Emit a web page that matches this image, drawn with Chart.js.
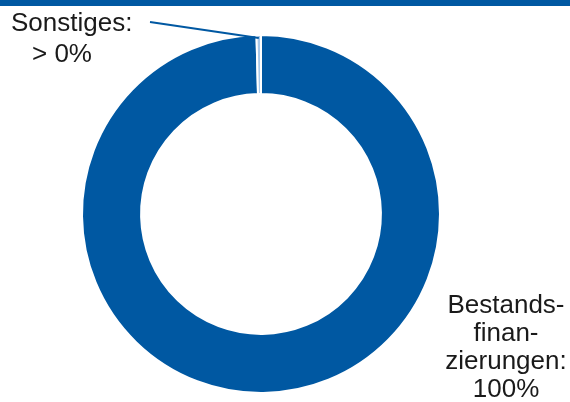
<!DOCTYPE html>
<html>
<head>
<meta charset="utf-8">
<script src="https://cdn.jsdelivr.net/npm/chart.js@4/dist/chart.umd.min.js"></script>
<style>
  html, body { margin: 0; padding: 0; background: #fff; }
  #wrap { width: 570px; height: 402px; position: relative; }
</style>
</head>
<body>
<div id="wrap"><canvas id="myChart"></canvas></div>
<script>
const categories = ['Bestandsfinanzierungen', 'Sonstiges'];
const shares = [99.6, 0.4];
const labelLines = [['Bestands-', 'finan-', 'zierungen:', '100%'], ['Sonstiges:', '> 0%']];
const colors = ['#0058a2', '#a9c9ea'];
const blue = '#0058a2';

const ctx = document.getElementById('myChart');

// top strip + outside labels with leader line
const decor = {
  id: 'decor',
  beforeDraw(chart) {
    const c = chart.ctx;
    c.save();
    c.fillStyle = blue;
    c.fillRect(0, 0, chart.width, 6);
    c.restore();
  },
  afterDraw(chart) {
    const c = chart.ctx;
    const arc = chart.getDatasetMeta(0).data[1];
    const mid = (arc.startAngle + arc.endAngle) / 2;
    const r = arc.outerRadius - 3;
    const ex = arc.x + Math.cos(mid) * r;
    const ey = arc.y + Math.sin(mid) * r;
    c.save();
    c.strokeStyle = blue;
    c.lineWidth = 2;
    c.beginPath();
    c.moveTo(150, 22);
    c.lineTo(ex, ey);
    c.stroke();

    c.fillStyle = '#1a1a1a';
    c.textBaseline = 'alphabetic';
    c.font = '26px "Liberation Sans", Arial, sans-serif';
    c.textAlign = 'left';
    c.fillText(labelLines[1][0], 11, 31);
    c.fillText(labelLines[1][1], 32, 62);

    c.textAlign = 'center';
    labelLines[0].forEach((t, i) => c.fillText(t, 506, 313 + i * 28));
    c.restore();
  }
};

new Chart(ctx, {
  type: 'doughnut',
  data: {
    labels: categories,
    datasets: [{
      data: shares,
      backgroundColor: colors,
      borderColor: '#ffffff',
      borderWidth: 2
    }]
  },
  options: {
    responsive: true,
    maintainAspectRatio: false,
    animation: false,
    cutout: '67%',
    rotation: 0,
    layout: { padding: { top: 34, bottom: 8, left: 0, right: 48 } },
    plugins: {
      legend: { display: false },
      tooltip: { enabled: false }
    }
  },
  plugins: [decor]
});
</script>
</body>
</html>
